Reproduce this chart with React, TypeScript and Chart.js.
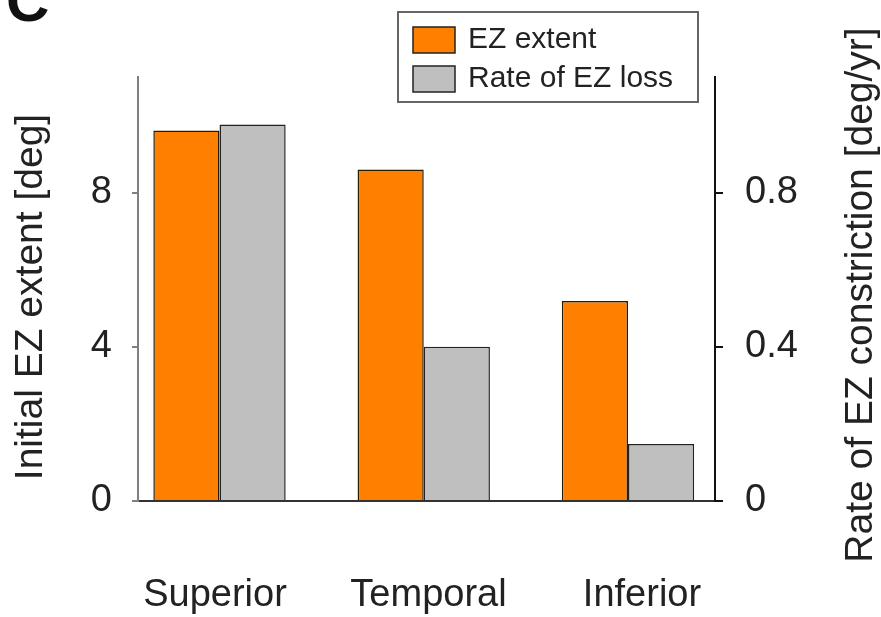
import React, { useEffect, useRef } from "react";
import { Chart, registerables } from "chart.js";

Chart.register(...registerables);

const categories = ["Superior", "Temporal", "Inferior"];
const ezExtent = [9.61, 8.6, 5.19];
const ezLossRate = [0.977, 0.4, 0.148];
const leftTicks = [0, 4, 8];
const rightTicks = [0, 0.4, 0.8];
const seriesLabels = ["EZ extent", "Rate of EZ loss"];
const seriesColors = ["#ff8000", "#bfbfbf"];
const leftTitle = "Initial EZ extent [deg]";
const rightTitle = "Rate of EZ constriction [deg/yr]";
const panelLetter = "C";

const FONT = "'Liberation Sans', Arial, Helvetica, sans-serif";
const TEXT = "#222222";

const decorPlugin = {
  id: "decor",
  afterDraw(chart: any) {
    const ctx = chart.ctx as CanvasRenderingContext2D;
    const ca = chart.chartArea;
    const midY = (ca.top + ca.bottom) / 2;
    ctx.save();
    // panel letter (partly cut off at the top)
    ctx.fillStyle = "#111111";
    ctx.font = `bold 60px ${FONT}`;
    ctx.textAlign = "left";
    ctx.textBaseline = "alphabetic";
    ctx.fillText(panelLetter, 6, 21);

    // axis titles, both reading bottom-to-top
    ctx.fillStyle = TEXT;
    ctx.font = `39px ${FONT}`;
    ctx.textAlign = "center";
    ctx.save();
    ctx.translate(42, midY + 8);
    ctx.rotate(-Math.PI / 2);
    ctx.fillText(leftTitle, 0, 0);
    ctx.restore();
    ctx.save();
    ctx.translate(872, midY + 6);
    ctx.rotate(-Math.PI / 2);
    ctx.fillText(rightTitle, 0, 0);
    ctx.restore();

    // legend box
    const bx = ca.left + 260;
    const by = 12;
    const bw = 300;
    const bh = 90;
    ctx.fillStyle = "#ffffff";
    ctx.fillRect(bx, by, bw, bh);
    ctx.strokeStyle = "#555555";
    ctx.lineWidth = 1.8;
    ctx.strokeRect(bx, by, bw, bh);
    ctx.font = `30px ${FONT}`;
    ctx.textAlign = "left";
    ctx.textBaseline = "middle";
    chart.data.datasets.forEach((ds: any, i: number) => {
      const sy = by + 15 + i * 39;
      ctx.fillStyle = ds.backgroundColor;
      ctx.fillRect(bx + 15, sy, 42, 26);
      ctx.strokeStyle = "#222222";
      ctx.lineWidth = 1.5;
      ctx.strokeRect(bx + 15, sy, 42, 26);
      ctx.fillStyle = TEXT;
      ctx.fillText(ds.label, bx + 70, sy + 13);
    });
    ctx.restore();
  },
};

export default function App() {
  const ref = useRef<HTMLCanvasElement | null>(null);

  useEffect(() => {
    if (!ref.current) return;
    const chart = new Chart(ref.current, {
      type: "bar",
      data: {
        datasets: [
          {
            label: seriesLabels[0],
            data: ezExtent.map((v, i) => ({ x: i, y: v })),
            backgroundColor: seriesColors[0],
            borderColor: "#2a1a00",
            borderWidth: 1.5,
            xAxisID: "x",
            yAxisID: "y",
            categoryPercentage: 0.648,
            barPercentage: 1.0,
          },
          {
            label: seriesLabels[1],
            data: ezLossRate.map((v, i) => ({ x: i, y: v })),
            backgroundColor: seriesColors[1],
            borderColor: "#222222",
            borderWidth: 1.5,
            xAxisID: "x",
            yAxisID: "y1",
            categoryPercentage: 0.648,
            barPercentage: 1.0,
          },
        ],
      },
      options: {
        animation: false,
        responsive: false,
        maintainAspectRatio: false,
        layout: { padding: { top: 77, left: 0, right: 0, bottom: 0 } },
        plugins: {
          legend: { display: false },
          tooltip: { enabled: false },
          title: { display: false },
        },
        scales: {
          x: {
            type: "linear",
            display: false,
            min: -0.399,
            max: 2.426,
            offset: false,
            afterBuildTicks: (s: any) => {
              s.ticks = categories.map((_, i) => ({ value: i }));
            },
          },
          xl: {
            type: "linear",
            position: "bottom",
            min: -0.3607,
            max: 2.342,
            offset: false,
            weight: 1,
            grid: { display: false },
            border: { display: true, color: "#333333", width: 2 },
            afterBuildTicks: (s: any) => {
              s.ticks = categories.map((_, i) => ({ value: i }));
            },
            afterFit: (s: any) => {
              s.height = 116;
            },
            ticks: {
              padding: 64,
              autoSkip: false,
              maxRotation: 0,
              color: TEXT,
              font: { family: FONT, size: 38 },
              callback: (v: any) => categories[Number(v)] ?? "",
            },
          },
          y: {
            type: "linear",
            position: "left",
            min: 0,
            max: 11,
            grid: {
              display: true,
              drawOnChartArea: false,
              drawTicks: true,
              tickLength: 6,
              color: "#808080",
              lineWidth: 2,
            },
            border: { display: true, color: "#808080", width: 2 },
            afterBuildTicks: (s: any) => {
              s.ticks = leftTicks.map((v) => ({ value: v }));
            },
            afterFit: (s: any) => {
              s.width = 138;
            },
            ticks: {
              padding: 20,
              color: TEXT,
              font: { family: FONT, size: 38 },
              callback: (v: any) => String(v),
            },
          },
          y1: {
            type: "linear",
            position: "right",
            min: 0,
            max: 1.1,
            grid: {
              display: true,
              drawOnChartArea: false,
              drawTicks: true,
              tickLength: 8,
              color: "#111111",
              lineWidth: 2,
            },
            border: { display: true, color: "#111111", width: 2 },
            afterBuildTicks: (s: any) => {
              s.ticks = rightTicks.map((v) => ({ value: v }));
            },
            afterFit: (s: any) => {
              s.width = 166;
            },
            ticks: {
              padding: 22,
              color: TEXT,
              font: { family: FONT, size: 38 },
              callback: (v: any) => String(v),
            },
          },
        },
      },
      plugins: [decorPlugin],
    } as any);
    return () => chart.destroy();
  }, []);

  return (
    <div style={{ position: "fixed", left: 0, top: 0, width: 881, height: 617, background: "#ffffff" }}>
      <canvas ref={ref} width={881} height={617} style={{ width: 881, height: 617, display: "block" }} />
    </div>
  );
}
